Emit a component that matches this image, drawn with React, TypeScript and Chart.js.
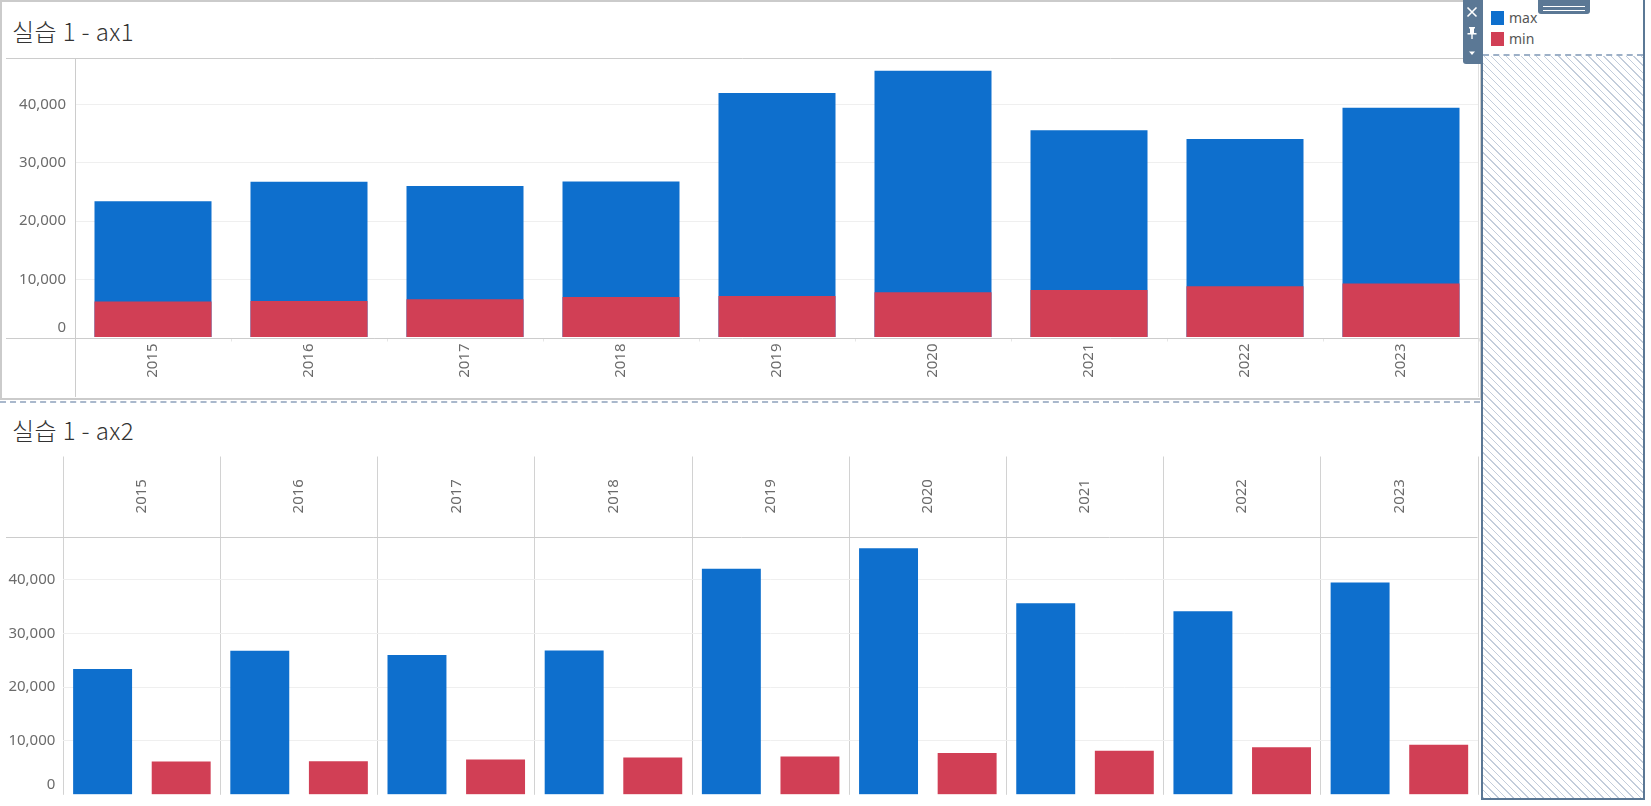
import React, { useEffect, useRef } from "react";
import { Chart, registerables } from "chart.js";

Chart.register(...registerables);

// ---- data ----
const years = ["2015", "2016", "2017", "2018", "2019", "2020", "2021", "2022", "2023"];
const maxValues = [23400, 26750, 26000, 26800, 42000, 45800, 35600, 34100, 39450];
const minValues = [6200, 6250, 6550, 6950, 7130, 7790, 8170, 8820, 9280];
const yTickValues = [0, 10000, 20000, 30000, 40000];
const axisMax = 48000;
const seriesNames = ["max", "min"];
const titles = ["실습 1 - ax1", "실습 1 - ax2"];

// ---- styles ----
const BLUE = "#0e6fcd";
const RED = "#d13f55";
const LINE = "#cccccc";
const GRID = "#efefef";
const LABEL = "#6b6b6b";
const FONT = '15px "Noto Sans", "DejaVu Sans", sans-serif';
const FRAME = "#5b7895";

const fmt = (v: number) => v.toLocaleString("en-US");

function strokeLine(ctx: CanvasRenderingContext2D, x1: number, y1: number, x2: number, y2: number) {
  ctx.beginPath();
  ctx.moveTo(x1, y1);
  ctx.lineTo(x2, y2);
  ctx.stroke();
}

const topDecor = {
  id: "topDecor",
  afterDraw(chart: any) {
    const { ctx, chartArea, scales } = chart;
    const x = scales.x;
    const y = scales.y;
    const h = chart.height;
    const zeroY = Math.round(y.getPixelForValue(0)) + 0.5;
    const topY = Math.round(chartArea.top) + 0.5;
    const leftX = Math.round(chartArea.left) + 0.5;
    const rightX = Math.round(chartArea.right) - 0.5;
    ctx.save();
    ctx.lineWidth = 1;
    ctx.strokeStyle = "#e0e0e0";
    strokeLine(ctx, rightX, topY, rightX, h - 1);
    ctx.strokeStyle = LINE;
    strokeLine(ctx, 0, topY, rightX, topY);
    strokeLine(ctx, 0, zeroY, rightX, zeroY);
    strokeLine(ctx, leftX, topY, leftX, h - 1);
    ctx.fillStyle = LABEL;
    ctx.font = FONT;
    ctx.textAlign = "right";
    ctx.textBaseline = "middle";
    y.ticks.forEach((t: any) => {
      let py = y.getPixelForValue(t.value);
      if (t.value === 0) py -= 10;
      ctx.fillText(fmt(t.value), chartArea.left - 9, py);
    });
    chart.data.labels.forEach((lab: string, i: number) => {
      const px = x.getPixelForValue(i);
      ctx.save();
      ctx.translate(px, zeroY + 5);
      ctx.rotate(-Math.PI / 2);
      ctx.textAlign = "right";
      ctx.textBaseline = "middle";
      ctx.fillText(lab, 0, 0);
      ctx.restore();
    });
    ctx.restore();
  },
};

const bottomDecor = {
  id: "bottomDecor",
  afterDraw(chart: any) {
    const { ctx, chartArea, scales } = chart;
    const x = scales.x;
    const y = scales.y;
    const topY = Math.round(chartArea.top) + 0.5;
    const rightX = Math.round(chartArea.right) - 0.5;
    ctx.save();
    ctx.lineWidth = 1;
    ctx.strokeStyle = LINE;
    strokeLine(ctx, 0, topY, rightX, topY);
    ctx.fillStyle = LABEL;
    ctx.font = FONT;
    ctx.textAlign = "right";
    ctx.textBaseline = "middle";
    y.ticks.forEach((t: any) => {
      let py = y.getPixelForValue(t.value);
      if (t.value === 0) py -= 10;
      ctx.fillText(fmt(t.value), chartArea.left - 8, py);
    });
    chart.data.labels.forEach((lab: string, i: number) => {
      const px = x.getPixelForValue(i);
      ctx.save();
      ctx.translate(px, chartArea.top / 2);
      ctx.rotate(-Math.PI / 2);
      ctx.textAlign = "center";
      ctx.textBaseline = "middle";
      ctx.fillText(lab, 0, 0);
      ctx.restore();
    });
    ctx.restore();
  },
};

const yGridColor = (c: any) => (c.tick && c.tick.value === 0 ? "rgba(0,0,0,0)" : GRID);
const setYTicks = (s: any) => {
  s.ticks = yTickValues.map((v) => ({ value: v }));
};

export default function App() {
  const topRef = useRef<HTMLCanvasElement>(null);
  const botRef = useRef<HTMLCanvasElement>(null);

  useEffect(() => {
    document.body.style.margin = "0";
    const c1 = new Chart(topRef.current as HTMLCanvasElement, {
      type: "bar",
      data: {
        labels: years,
        datasets: [
          {
            label: seriesNames[1],
            data: minValues,
            backgroundColor: RED,
            grouped: false,
            order: 0,
            barPercentage: 0.75,
            categoryPercentage: 1,
          } as any,
          {
            label: seriesNames[0],
            data: maxValues,
            backgroundColor: BLUE,
            grouped: false,
            order: 1,
            barPercentage: 0.75,
            categoryPercentage: 1,
          } as any,
        ],
      },
      options: {
        animation: false,
        responsive: false,
        maintainAspectRatio: false,
        layout: { padding: { left: 0, right: 1, top: 0, bottom: 0 } },
        plugins: { legend: { display: false }, tooltip: { enabled: false } },
        scales: {
          x: {
            type: "category",
            offset: true,
            grid: { display: true, offset: true, drawOnChartArea: false, drawTicks: true, tickLength: 4, color: "#e6e6e6" },
            border: { display: false },
            ticks: { display: false },
            afterFit: (s: any) => {
              s.height = 60.5;
            },
          },
          y: {
            min: 0,
            max: axisMax,
            ticks: { display: false },
            afterBuildTicks: setYTicks,
            grid: { color: yGridColor, drawTicks: false },
            border: { display: false },
            afterFit: (s: any) => {
              s.width = 69;
            },
          },
        },
      } as any,
      plugins: [topDecor],
    });

    const c2 = new Chart(botRef.current as HTMLCanvasElement, {
      type: "bar",
      data: {
        labels: years,
        datasets: [
          { label: seriesNames[0], data: maxValues, backgroundColor: BLUE, barPercentage: 0.75, categoryPercentage: 1 },
          { label: seriesNames[1], data: minValues, backgroundColor: RED, barPercentage: 0.75, categoryPercentage: 1 },
        ],
      },
      options: {
        animation: false,
        responsive: false,
        maintainAspectRatio: false,
        layout: { padding: { left: 0, right: 2, top: 0, bottom: 1.2 } },
        plugins: { legend: { display: false }, tooltip: { enabled: false } },
        scales: {
          x: {
            type: "category",
            position: "top",
            offset: true,
            grid: { display: true, offset: true, drawOnChartArea: true, drawTicks: true, tickLength: 80, color: "#d2d2d2" },
            border: { display: false },
            ticks: { display: false },
            afterFit: (s: any) => {
              s.height = 80.5;
            },
          },
          y: {
            min: 0,
            max: axisMax,
            ticks: { display: false },
            afterBuildTicks: setYTicks,
            grid: { color: yGridColor, drawTicks: false },
            border: { display: false },
            afterFit: (s: any) => {
              s.width = 57.3;
            },
          },
        },
      } as any,
      plugins: [bottomDecor],
    });

    return () => {
      c1.destroy();
      c2.destroy();
    };
  }, []);

  const titleStyle: React.CSSProperties = {
    position: "absolute",
    left: 12,
    height: 30,
    lineHeight: "30px",
    fontSize: 24,
    fontWeight: 300,
    letterSpacing: "0.4px",
    color: "#333333",
    fontFamily: '"Noto Sans CJK KR", "Noto Sans", sans-serif',
    whiteSpace: "nowrap",
  };

  const legendColors = [BLUE, RED];

  return (
    <div
      style={{
        position: "fixed",
        left: 0,
        top: 0,
        width: 1651,
        height: 806,
        background: "#ffffff",
        overflow: "hidden",
        fontFamily: '"Noto Sans", sans-serif',
      }}
    >
      {/* top sheet frame */}
      <div
        style={{
          position: "absolute",
          left: 0,
          top: 0,
          width: 1482,
          height: 400,
          border: "2px solid #cbcbcb",
          boxSizing: "border-box",
        }}
      />
      <div style={{ position: "absolute", left: 0, top: 401, width: 1480, height: 0, borderTop: "2px dashed #a9b8cc" }} />

      <div style={{ ...titleStyle, top: 16 }}>{titles[0]}</div>
      <div style={{ ...titleStyle, top: 415 }}>{titles[1]}</div>

      <canvas ref={topRef} width={1474} height={340} style={{ position: "absolute", left: 6, top: 58, width: 1474, height: 340 }} />
      <canvas ref={botRef} width={1474} height={340} style={{ position: "absolute", left: 6, top: 456, width: 1474, height: 340 }} />

      {/* legend panel */}
      <div
        style={{
          position: "absolute",
          left: 1481,
          top: 0,
          width: 164,
          height: 800,
          borderLeft: `2px solid ${FRAME}`,
          borderRight: `2px solid ${FRAME}`,
          borderBottom: `2px solid ${FRAME}`,
          boxSizing: "border-box",
          background: "#ffffff",
        }}
      />
      <div
        style={{
          position: "absolute",
          left: 1483,
          top: 56,
          width: 160,
          height: 742,
          backgroundColor: "#ffffff",
          backgroundImage: "repeating-linear-gradient(45deg, #c3cddb 0px, #c3cddb 1px, transparent 1px, transparent 5.3px)",
        }}
      />
      <div style={{ position: "absolute", left: 1483, top: 54, width: 160, height: 0, borderTop: "2px dashed #9db0c7" }} />
      {seriesNames.map((name, i) => (
        <React.Fragment key={name}>
          <div
            style={{
              position: "absolute",
              left: 1491,
              top: 11 + i * 21,
              width: 13,
              height: 14,
              background: legendColors[i],
            }}
          />
          <div
            style={{
              position: "absolute",
              left: 1509,
              top: 10 + i * 21,
              height: 16,
              lineHeight: "16px",
              fontSize: 14,
              color: "#555555",
            }}
          >
            {name}
          </div>
        </React.Fragment>
      ))}

      {/* legend drag handle */}
      <div
        style={{
          position: "absolute",
          left: 1538,
          top: 0,
          width: 52,
          height: 14,
          background: FRAME,
          borderRadius: "0 0 3px 3px",
        }}
      >
        <div style={{ position: "absolute", left: 5, top: 6, width: 42, height: 1, background: "#ffffff" }} />
        <div style={{ position: "absolute", left: 5, top: 10, width: 42, height: 1, background: "#ffffff" }} />
      </div>

      {/* legend control strip */}
      <svg
        width={18}
        height={64}
        style={{ position: "absolute", left: 1463, top: 0 }}
        viewBox="0 0 18 64"
      >
        <path d="M0 0 H18 V64 H3 Q0 64 0 61 Z" fill={FRAME} />
        <path d="M4.5 7.5 L13.5 16.5 M13.5 7.5 L4.5 16.5" stroke="#ffffff" strokeWidth={1.6} />
        <rect x={6} y={27} width={6} height={1.5} fill="#ffffff" />
        <rect x={7} y={28} width={4} height={5} fill="#ffffff" />
        <rect x={4.5} y={33} width={9} height={1.5} fill="#ffffff" />
        <rect x={8.3} y={34} width={1.4} height={5} fill="#ffffff" />
        <polygon points="6,51.5 12,51.5 9,55" fill="#ffffff" />
      </svg>
    </div>
  );
}
